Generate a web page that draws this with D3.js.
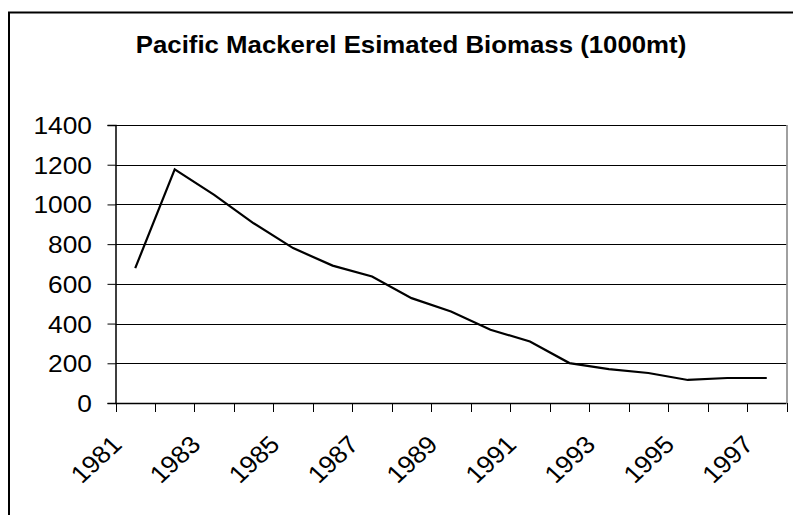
<!DOCTYPE html>
<html>
<head>
<meta charset="utf-8">
<script src="https://cdn.jsdelivr.net/npm/d3@7"></script>
<style>
  body { margin: 0; background: #fff; }
  svg { display: block; }
  text { font-family: "Liberation Sans", Arial, sans-serif; fill: #000; }
</style>
</head>
<body>
<svg id="chart" width="793" height="515"></svg>
<script>
// Estimated biomass of Pacific mackerel, thousands of metric tons
const years = [1981, 1982, 1983, 1984, 1985, 1986, 1987, 1988, 1989,
               1990, 1991, 1992, 1993, 1994, 1995, 1996, 1997];
const biomass = [679, 1177, 1048, 905, 780, 692, 637, 528, 461,
                 369, 310, 201, 171, 151, 116, 126, 126];
const yTickValues = [0, 200, 400, 600, 800, 1000, 1200, 1400];
const labeledYears = [1981, 1983, 1985, 1987, 1989, 1991, 1993, 1995, 1997];
const chartTitle = "Pacific Mackerel Esimated Biomass (1000mt)";

const svg = d3.select("#chart");
const plot = { left: 115.5, right: 786.5, top: 125, bottom: 403 };
const stretch = 1.075;   // horizontal widening of the lettering

const x = d3.scaleBand().domain(years).range([plot.left, plot.right]).paddingInner(0).paddingOuter(0);
const y = d3.scaleLinear().domain([0, 1400]).range([plot.bottom, plot.top]);

// chart frame
svg.append("rect")
  .attr("x", 9).attr("y", 12.5).attr("width", 820).attr("height", 540)
  .attr("fill", "none").attr("stroke", "#000").attr("stroke-width", 2);

// title
svg.append("text")
  .attr("transform", `translate(411,52.5) scale(${stretch},1)`)
  .attr("text-anchor", "middle")
  .attr("font-size", 24).attr("font-weight", "bold")
  .text(chartTitle);

// horizontal gridlines
svg.append("g").selectAll("line")
  .data(yTickValues.filter(v => v > 0))
  .join("line")
  .attr("x1", plot.left).attr("x2", plot.right)
  .attr("y1", d => Math.round(y(d)) + 0.5).attr("y2", d => Math.round(y(d)) + 0.5)
  .attr("stroke", "#000").attr("stroke-width", 1);

// right edge of plot area
svg.append("line")
  .attr("x1", plot.right + 0.5).attr("x2", plot.right + 0.5)
  .attr("y1", plot.top).attr("y2", plot.bottom)
  .attr("stroke", "#808080").attr("stroke-width", 1.5);

// value axis
const yAxis = d3.axisLeft(y).tickValues(yTickValues).tickSize(8).tickPadding(15).tickFormat(d3.format("d"));
const gy = svg.append("g").attr("transform", `translate(${plot.left},0)`).call(yAxis);
gy.select(".domain").attr("stroke", "#000").attr("stroke-width", 1.5);
gy.selectAll(".tick line").attr("stroke", "#000").attr("stroke-width", 1);
gy.selectAll(".tick text")
  .attr("font-size", 24.5)
  .attr("font-family", "Liberation Sans, Arial, sans-serif")
  .attr("x", null).attr("dy", null)
  .attr("text-anchor", "end")
  .attr("transform", `translate(-23.5,8.5) scale(${stretch},1)`);

// category axis: ticks on band boundaries
const boundaries = years.map(yr => x(yr)).concat([plot.right]);
const gx = svg.append("g");
gx.append("line")
  .attr("x1", plot.left).attr("x2", plot.right)
  .attr("y1", plot.bottom + 0.5).attr("y2", plot.bottom + 0.5)
  .attr("stroke", "#000").attr("stroke-width", 1.5);
gx.selectAll("line.tick")
  .data(boundaries)
  .join("line").attr("class", "tick")
  .attr("x1", d => Math.round(d) + 0.5).attr("x2", d => Math.round(d) + 0.5)
  .attr("y1", plot.bottom).attr("y2", plot.bottom + 9)
  .attr("stroke", "#000").attr("stroke-width", 1);
gx.selectAll("text")
  .data(labeledYears)
  .join("text")
  .attr("text-anchor", "end")
  .attr("font-size", 24.5)
  .attr("transform", d => `translate(${x(d) + x.bandwidth() / 2 - 12},446) scale(${stretch},1) rotate(-45)`)
  .text(d => d);

// biomass series
const line = d3.line()
  .x((d, i) => x(years[i]) + x.bandwidth() / 2)
  .y(d => y(d));
svg.append("path")
  .datum(biomass)
  .attr("d", line)
  .attr("fill", "none")
  .attr("stroke", "#000")
  .attr("stroke-width", 2.2)
  .attr("stroke-linejoin", "miter");
</script>
</body>
</html>
